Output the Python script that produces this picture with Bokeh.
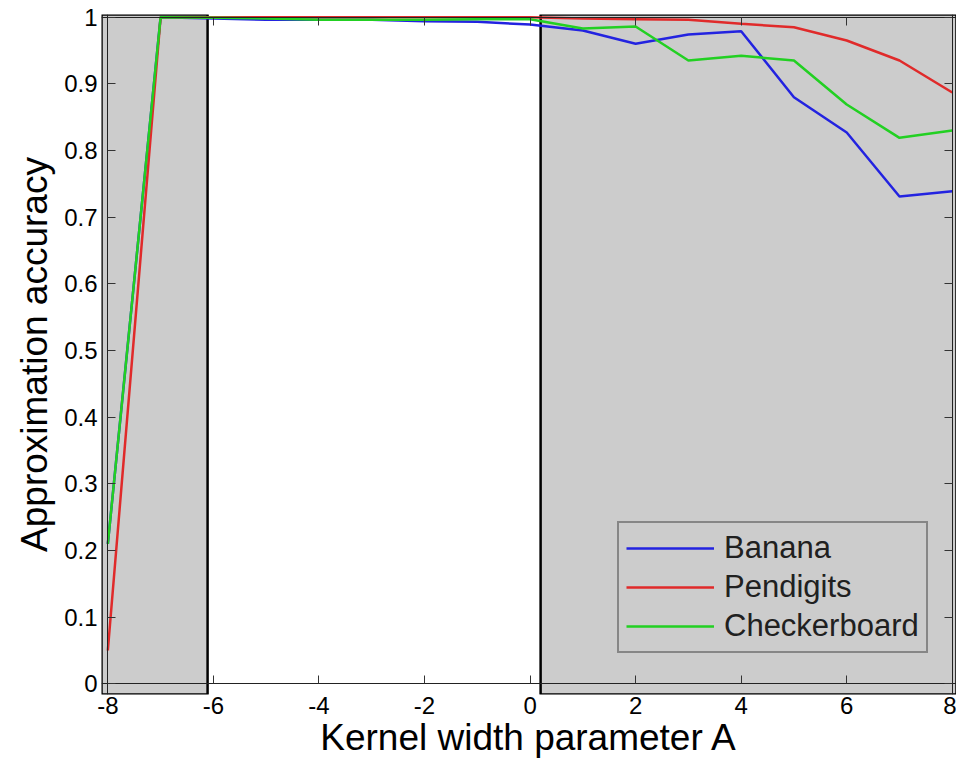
from bokeh.plotting import figure
from bokeh.models import (BoxAnnotation, FixedTicker, Legend, LegendItem, LinearAxis)
from bokeh.embed import file_html
from bokeh.resources import INLINE

# ---- data ----
kernel_a = [-8, -7, -6, -5, -4, -3, -2, -1, 0, 1, 2, 3, 4, 5, 6, 7, 8]
banana = [0.21, 1.0, 0.998, 0.996, 0.996, 0.996, 0.994, 0.993, 0.989, 0.980, 0.960,
          0.974, 0.979, 0.880, 0.827, 0.731, 0.739]
pendigits = [0.05, 1.0, 1.0, 1.0, 1.0, 1.0, 1.0, 1.0, 1.0, 0.998, 0.997,
             0.996, 0.990, 0.985, 0.965, 0.935, 0.887]
checkerboard = [0.21, 1.0, 0.999, 0.998, 0.996, 0.996, 0.996, 0.997, 0.997, 0.983, 0.986,
                0.935, 0.942, 0.935, 0.869, 0.819, 0.830]
series_names = ["Banana", "Pendigits", "Checkerboard"]
series_colors = ["#2323e0", "#e02a2a", "#22d022"]

x_ticks = [-8, -6, -4, -2, 0, 2, 4, 6, 8]
x_tick_labels = ["-8", "-6", "-4", "-2", "0", "2", "4", "6", "8"]
y_ticks = [0, 0.1, 0.2, 0.3, 0.4, 0.5, 0.6, 0.7, 0.8, 0.9, 1]
y_tick_labels = ["0", "0.1", "0.2", "0.3", "0.4", "0.5", "0.6", "0.7", "0.8", "0.9", "1"]
x_title = "Kernel width parameter A"
y_title = "Approximation accuracy"

# axes limits and shaded regions (data coordinates)
x_min, x_max = -8, 8
y_min, y_max = 0, 1
shade_left = dict(left=-8.12, right=-6.11, bottom=-0.016, top=1.004)
shade_right = dict(left=0.2, right=8.08, bottom=-0.016, top=1.004)

FONT = "Liberation Sans"

p = figure(frame_width=855, frame_height=680, x_range=(-8.12, 8.08), y_range=(-0.016, 1.004),
           output_backend="svg", toolbar_location=None,
           min_border_left=101, min_border_top=14, min_border_right=0, min_border_bottom=60,
           background_fill_color="white", border_fill_color="white")
p.grid.visible = False
p.outline_line_color = None

for sh in (shade_left, shade_right):
    p.add_layout(BoxAnnotation(fill_color="#cccccc", fill_alpha=1.0,
                               line_color="black", line_width=2.5, line_alpha=1.0,
                               level="underlay", **sh))

renderers = []
for name, vals, col in zip(series_names, [banana, pendigits, checkerboard], series_colors):
    r = p.line(kernel_a, vals, line_color=col, line_width=2.5)
    renderers.append(r)

# label-only axes (outside the frame)
xa = p.xaxis[0]
xa.ticker = FixedTicker(ticks=x_ticks)
xa.major_label_overrides = {t: l for t, l in zip(x_ticks, x_tick_labels)}
xa.axis_label = x_title
ya = p.yaxis[0]
ya.ticker = FixedTicker(ticks=y_ticks)
ya.major_label_overrides = {t: l for t, l in zip(y_ticks, y_tick_labels)}
ya.axis_label = y_title
for ax in (xa, ya):
    ax.minor_tick_line_color = None
    ax.major_tick_line_color = None
    ax.major_tick_in = 0
    ax.major_tick_out = 0
    ax.axis_line_color = None
    ax.major_label_text_font = FONT
    ax.major_label_text_font_size = "24px"
    ax.major_label_text_color = "black"
    ax.axis_label_text_font = FONT
    ax.axis_label_text_font_size = "37px"
    ax.axis_label_text_font_style = "normal"
    ax.axis_label_text_color = "black"
xa.major_label_standoff = 2
xa.axis_label_standoff = 0
ya.major_label_standoff = 4
ya.axis_label_standoff = 6

# axis box lines with inward ticks, at the data limits
for loc, ticks, fixed in (("left", y_ticks, x_min), ("below", x_ticks, y_min),
                          ("right", y_ticks, x_max), ("above", x_ticks, y_max)):
    ax = LinearAxis(ticker=FixedTicker(ticks=ticks), major_label_text_font_size="0px",
                    major_label_overrides={t: "" for t in ticks},
                    major_label_standoff=0, major_tick_in=8, major_tick_out=0,
                    minor_tick_line_color=None, axis_line_color="#222222",
                    major_tick_line_color="#333333", fixed_location=fixed)
    p.add_layout(ax, loc)

legend = Legend(items=[LegendItem(label=n, renderers=[r]) for n, r in zip(series_names, renderers)],
                location=(516, 41), background_fill_color="#cccccc", background_fill_alpha=1.0,
                border_line_color="#404040", border_line_width=2,
                label_text_font=FONT, label_text_font_size="31px", label_text_color="#202020",
                glyph_width=88, glyph_height=36, label_height=36, spacing=3,
                label_standoff=10, padding=7, margin=0)
p.add_layout(legend)

open("out.html", "w").write(file_html(p, INLINE))
